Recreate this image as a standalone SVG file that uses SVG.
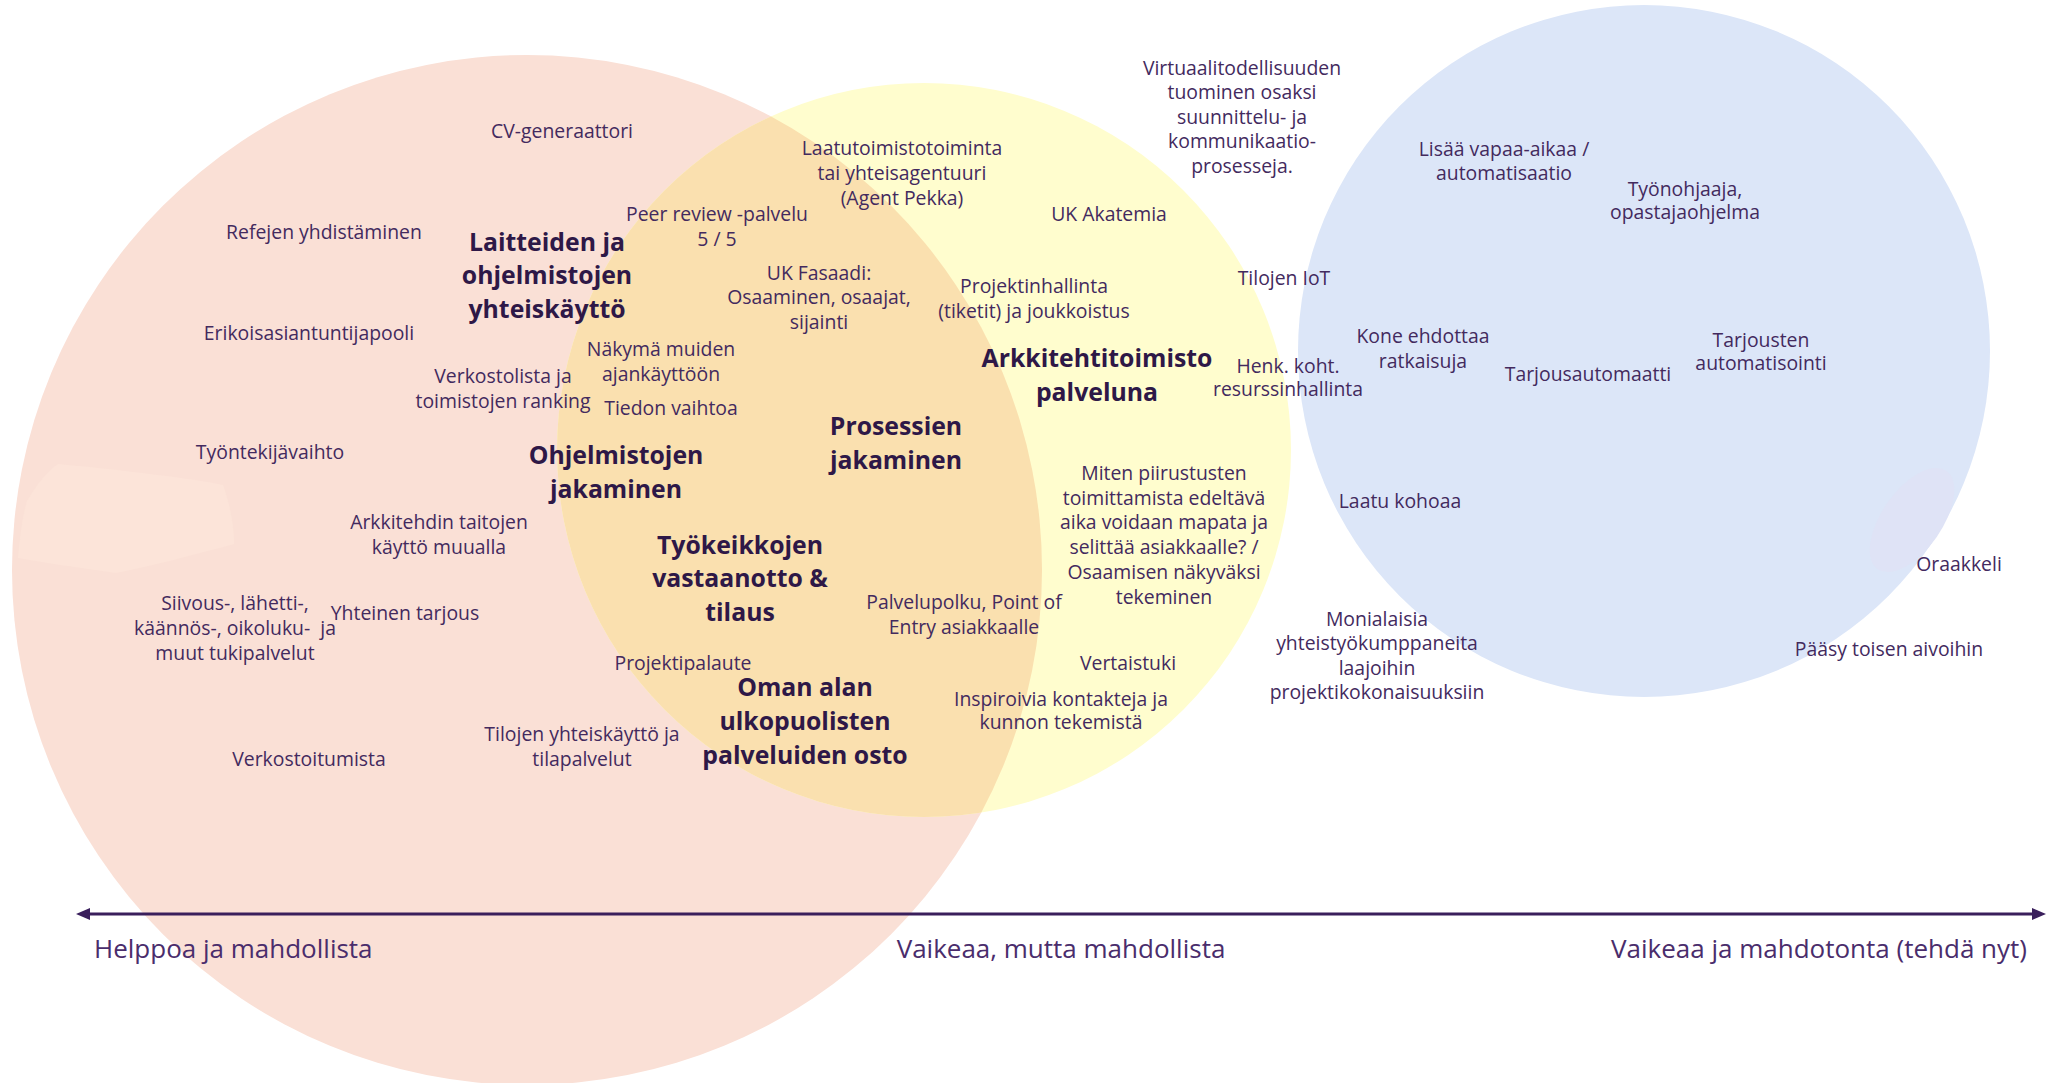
<svg xmlns="http://www.w3.org/2000/svg" width="2056" height="1083" viewBox="0 0 2056 1083">
<defs>
<style>
.t{font-family:"Open Sans","Liberation Sans",sans-serif;font-size:19.4px;fill:#432a5e;text-anchor:middle}
.b{font-family:"Open Sans","Liberation Sans",sans-serif;font-size:24.8px;font-weight:700;fill:#2e1847;text-anchor:middle}
.ax{font-family:"Open Sans","Liberation Sans",sans-serif;font-size:26px;fill:#4a2d6c}
</style>
<clipPath id="pinkClip"><circle cx="527" cy="570" r="515"/></clipPath>
<marker id="ah" viewBox="0 0 14 12" refX="1" refY="6" markerWidth="14" markerHeight="12" markerUnits="userSpaceOnUse" orient="auto-start-reverse">
<path d="M0,0 L14,6 L0,12 Z" fill="#3a1f5c"/>
</marker>
</defs>
<rect width="2056" height="1083" fill="#ffffff"/>
<g id="circles">
<circle id="pink" cx="527" cy="570" r="515" fill="#fae0d6"/>
<path id="pink-patch" d="M58,464 C120,470 190,478 223,485 C230,505 234,525 234,544 C190,556 150,566 116,573 C80,568 40,562 18,558 C20,538 22,518 27,501 C36,486 46,472 58,464 Z" fill="#fce4d9"/>
<circle id="yellow" cx="924" cy="450" r="367" fill="#fffdce"/>
<circle id="overlap" cx="924" cy="450" r="367" fill="#fae0af" clip-path="url(#pinkClip)"/>
<circle id="blue" cx="1644" cy="351" r="346" fill="#dce6f8"/>
<ellipse id="lavender" cx="1912" cy="520" rx="30" ry="60" transform="rotate(35 1912 520)" fill="#dfe3f6"/>
</g>
<g id="connectors">
<line x1="89" y1="914" x2="2033" y2="914" stroke="#3a1f5c" stroke-width="3" marker-start="url(#ah)" marker-end="url(#ah)"/>
</g>
<g id="labels" transform="translate(0,1.5)">
<g id="n1"><text class="t" x="562" y="136">CV-generaattori</text></g>
<g id="n2"><text class="t" x="324" y="237">Refejen yhdistäminen</text></g>
<g id="n3"><text class="t" x="309" y="338">Erikoisasiantuntijapooli</text></g>
<g id="n4"><text class="t" x="503" y="381">Verkostolista ja<tspan x="503" dy="25">toimistojen ranking</tspan></text></g>
<g id="n5"><text class="t" x="270" y="457">Työntekijävaihto</text></g>
<g id="n6"><text class="t" x="439" y="527">Arkkitehdin taitojen<tspan x="439" dy="25">käyttö muualla</tspan></text></g>
<g id="n7"><text class="t" x="235" y="608">Siivous-, lähetti-,<tspan x="235" dy="25">käännös-, oikoluku-&#160; ja</tspan><tspan x="235" dy="25">muut tukipalvelut</tspan></text></g>
<g id="n8"><text class="t" x="405" y="618">Yhteinen tarjous</text></g>
<g id="n9"><text class="t" x="309" y="764">Verkostoitumista</text></g>
<g id="n10"><text class="t" x="582" y="739">Tilojen yhteiskäyttö ja<tspan x="582" dy="25">tilapalvelut</tspan></text></g>
<g id="n11"><text class="b" x="547" y="249">Laitteiden ja<tspan x="547" dy="33.5">ohjelmistojen</tspan><tspan x="547" dy="33.5">yhteiskäyttö</tspan></text></g>
<g id="n12"><text class="b" x="616" y="462">Ohjelmistojen<tspan x="616" dy="34">jakaminen</tspan></text></g>
<g id="n13"><text class="t" x="717" y="219">Peer review -palvelu<tspan x="717" dy="25">5 / 5</tspan></text></g>
<g id="n14"><text class="t" x="902" y="153">Laatutoimistotoiminta<tspan x="902" dy="25">tai yhteisagentuuri</tspan><tspan x="902" dy="25">(Agent Pekka)</tspan></text></g>
<g id="n15"><text class="t" x="819" y="278">UK Fasaadi:<tspan x="819" dy="24.5">Osaaminen, osaajat,</tspan><tspan x="819" dy="24.5">sijainti</tspan></text></g>
<g id="n16"><text class="t" x="661" y="354">Näkymä muiden<tspan x="661" dy="25">ajankäyttöön</tspan></text></g>
<g id="n17"><text class="t" x="671" y="413">Tiedon vaihtoa</text></g>
<g id="n18"><text class="b" x="896" y="433">Prosessien<tspan x="896" dy="34">jakaminen</tspan></text></g>
<g id="n19"><text class="b" x="740" y="552">Työkeikkojen<tspan x="740" dy="33.5">vastaanotto &amp;</tspan><tspan x="740" dy="33.5">tilaus</tspan></text></g>
<g id="n20"><text class="t" x="683" y="668">Projektipalaute</text></g>
<g id="n21"><text class="b" x="805" y="694">Oman alan<tspan x="805" dy="34">ulkopuolisten</tspan><tspan x="805" dy="34">palveluiden osto</tspan></text></g>
<g id="n22"><text class="t" x="964" y="607">Palvelupolku, Point of<tspan x="964" dy="25">Entry asiakkaalle</tspan></text></g>
<g id="n23"><text class="t" x="1109" y="219">UK Akatemia</text></g>
<g id="n24"><text class="t" x="1034" y="291">Projektinhallinta<tspan x="1034" dy="25">(tiketit) ja joukkoistus</tspan></text></g>
<g id="n25"><text class="b" x="1097" y="365">Arkkitehtitoimisto<tspan x="1097" dy="34">palveluna</tspan></text></g>
<g id="n26"><text class="t" x="1164" y="478">Miten piirustusten<tspan x="1164" dy="25">toimittamista edeltävä</tspan><tspan x="1164" dy="24">aika voidaan mapata ja</tspan><tspan x="1164" dy="25">selittää asiakkaalle? /</tspan><tspan x="1164" dy="25">Osaamisen näkyväksi</tspan><tspan x="1164" dy="25">tekeminen</tspan></text></g>
<g id="n27"><text class="t" x="1128" y="668">Vertaistuki</text></g>
<g id="n28"><text class="t" x="1061" y="704">Inspiroivia kontakteja ja<tspan x="1061" dy="23.5">kunnon tekemistä</tspan></text></g>
<g id="n29"><text class="t" x="1242" y="73">Virtuaalitodellisuuden<tspan x="1242" dy="24.5">tuominen osaksi</tspan><tspan x="1242" dy="24.5">suunnittelu- ja</tspan><tspan x="1242" dy="24.5">kommunikaatio-</tspan><tspan x="1242" dy="24.5">prosesseja.</tspan></text></g>
<g id="n30"><text class="t" x="1284" y="283">Tilojen IoT</text></g>
<g id="n31"><text class="t" x="1288" y="371">Henk. koht.<tspan x="1288" dy="23.5">resurssinhallinta</tspan></text></g>
<g id="n32"><text class="t" x="1377" y="624">Monialaisia<tspan x="1377" dy="24.5">yhteistyökumppaneita</tspan><tspan x="1377" dy="24.5">laajoihin</tspan><tspan x="1377" dy="24.5">projektikokonaisuuksiin</tspan></text></g>
<g id="n33"><text class="t" x="1504" y="154">Lisää vapaa-aikaa /<tspan x="1504" dy="24">automatisaatio</tspan></text></g>
<g id="n34"><text class="t" x="1685" y="194">Työnohjaaja,<tspan x="1685" dy="23.5">opastajaohjelma</tspan></text></g>
<g id="n35"><text class="t" x="1423" y="341">Kone ehdottaa<tspan x="1423" dy="25">ratkaisuja</tspan></text></g>
<g id="n36"><text class="t" x="1588" y="379">Tarjousautomaatti</text></g>
<g id="n37"><text class="t" x="1761" y="345">Tarjousten<tspan x="1761" dy="23.5">automatisointi</tspan></text></g>
<g id="n38"><text class="t" x="1400" y="506">Laatu kohoaa</text></g>
<g id="n39"><text class="t" x="1959" y="569">Oraakkeli</text></g>
<g id="n40"><text class="t" x="1889" y="654">Pääsy toisen aivoihin</text></g>
</g>
<g id="axis-labels">
<text class="ax" x="94" y="958">Helppoa ja mahdollista</text>
<text class="ax" x="1061" y="958" text-anchor="middle">Vaikeaa, mutta mahdollista</text>
<text class="ax" x="2027" y="958" text-anchor="end">Vaikeaa ja mahdotonta (tehdä nyt)</text>
</g>
</svg>
